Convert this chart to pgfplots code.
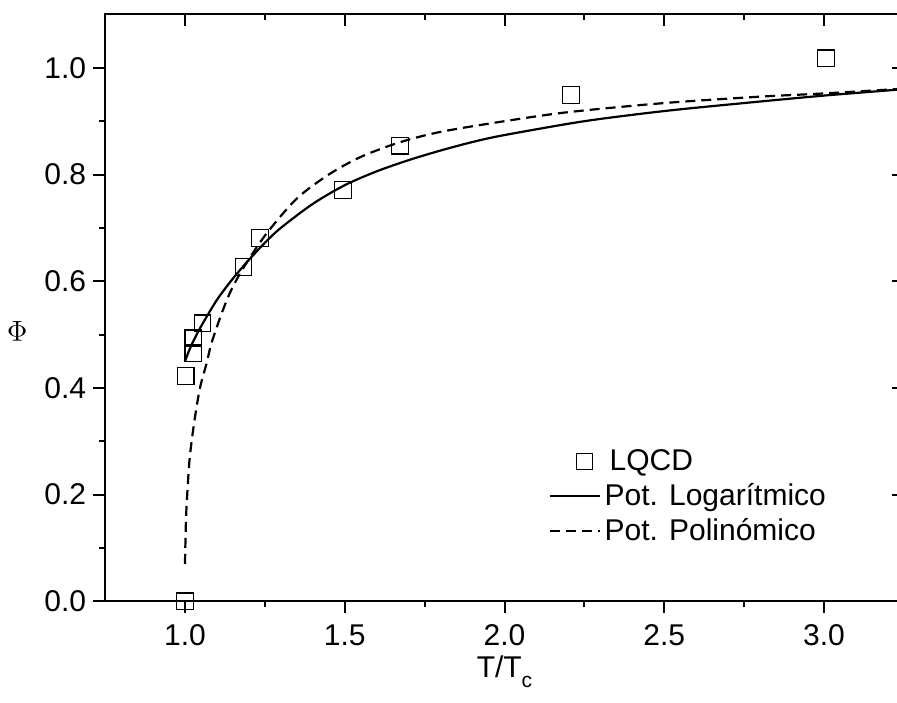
\documentclass[border=0pt]{standalone}
\usepackage{fontspec}
\setmainfont{Liberation Sans}
\usepackage{pgfplots}
\pgfplotsset{compat=1.18}

\newcommand{\figfont}{\fontsize{15pt}{17pt}\selectfont}

\pgfplotsset{
  phibox/.style={
    at={(0,0)}, anchor=south west,
    scale only axis, width=399.4pt, height=293.4pt,
    xmin=0.75, xmax=3.25, ymin=0, ymax=1.1,
    xtick={1,1.5,2,2.5,3}, minor xtick={1.25,1.75,2.25,2.75},
    ytick={0,0.2,0.4,0.6,0.8,1.0}, minor ytick={0.1,0.3,0.5,0.7,0.9},
    major tick length=6pt, minor tick length=3pt,
    axis line style={line width=1pt},
    every tick/.style={black, line width=1pt},
    tick label style={font=\figfont},
    /pgf/number format/assume math mode=true,
    /pgf/number format/fixed, /pgf/number format/fixed zerofill,
    /pgf/number format/precision=1,
  },
}

\begin{document}
\begin{tikzpicture}
% ticks on top and right point inwards, without labels
\begin{axis}[phibox, xtick pos=right, ytick pos=right, tick align=inside,
  xticklabels={}, yticklabels={}]
\end{axis}

\begin{axis}[phibox, xtick pos=left, ytick pos=left, tick align=outside,
  xticklabel style={yshift=-2pt},
  xlabel={T/T\raisebox{-0.6ex}{\fontsize{10.5pt}{12pt}\selectfont c}},
  ylabel={$\Phi$},
  label style={font=\figfont},
  xlabel style={at={(axis description cs:0.5,-0.13)}, anchor=base},
  ylabel style={at={(axis description cs:-0.11,0.46)}, anchor=center, rotate=90},
  legend style={at={(rel axis cs:0.547,0.273)}, anchor=north west,
    draw=none, fill=none, font=\figfont, row sep=1pt},
  legend cell align=left,
  legend image code/.code={\draw[mark repeat=2,mark phase=2]
    plot coordinates {(0pt,0pt)(12.5pt,0pt)(25pt,0pt)};},
]
\addplot[only marks, mark=square, mark size=4.15pt,
  mark options={line width=0.6pt},
  legend image code/.code={\path[draw=none, fill=none] (0pt,0pt) -- (25pt,0pt);
    \draw[only marks] plot coordinates {(17.5pt,0pt)};}] coordinates {
  (1.000,0.000) (1.002,0.422) (1.026,0.465) (1.026,0.493) (1.055,0.521)
  (1.183,0.627) (1.235,0.681) (1.494,0.771) (1.673,0.854) (2.208,0.949)
  (3.006,1.018)
};
\addlegendentry{\hspace{2.5pt}LQCD}

\addplot[black, line width=1.1pt, smooth] coordinates {
  (1.000,0.450) (1.020,0.480) (1.050,0.515) (1.100,0.565) (1.150,0.605)
  (1.200,0.640) (1.250,0.672) (1.300,0.700) (1.400,0.745) (1.500,0.780)
  (1.600,0.806) (1.700,0.827) (1.800,0.845) (1.900,0.861) (2.000,0.874)
  (2.250,0.900) (2.500,0.919) (2.750,0.934) (3.000,0.948) (3.250,0.960)
};
\addlegendentry{Pot. Logarítmico}

\addplot[black, line width=1.1pt, dash pattern=on 5pt off 3pt, smooth] coordinates {
  (1.000,0.070) (1.003,0.150) (1.007,0.200) (1.015,0.270) (1.030,0.340)
  (1.047,0.400) (1.068,0.447) (1.083,0.484) (1.115,0.540) (1.146,0.585)
  (1.188,0.630) (1.256,0.690) (1.350,0.755) (1.450,0.800) (1.550,0.833)
  (1.670,0.860) (1.800,0.880) (2.000,0.900) (2.200,0.917) (2.500,0.934)
  (2.800,0.946) (3.000,0.952) (3.250,0.961)
};
\addlegendentry{Pot. Polinómico}
\end{axis}

\pgfresetboundingbox
\path[use as bounding box] (-52.55pt,-50.35pt) rectangle (395.95pt,300.65pt);
\end{tikzpicture}
\end{document}
